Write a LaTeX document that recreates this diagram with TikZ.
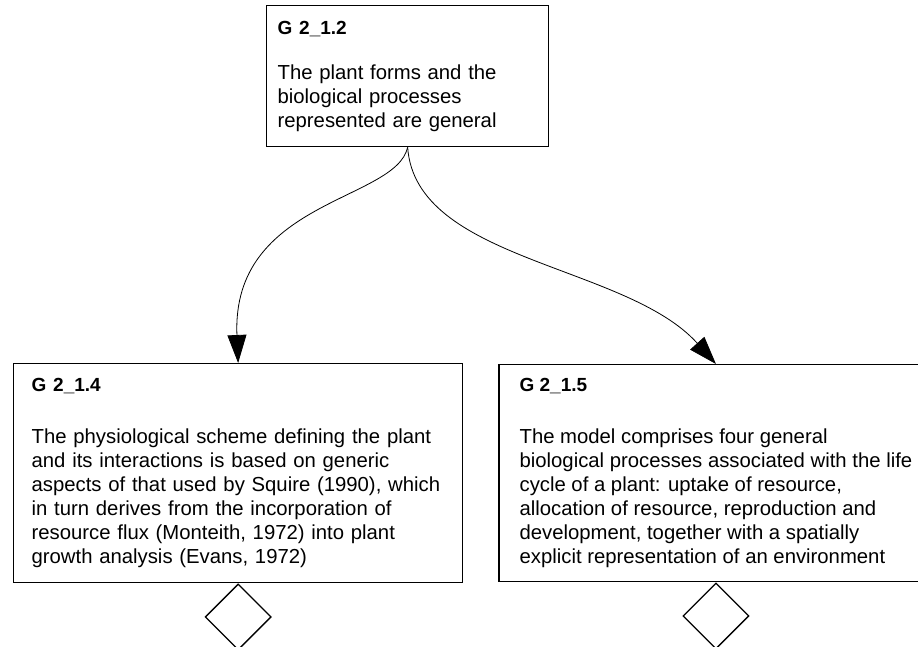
\documentclass[tikz,border=0pt]{standalone}
\usepackage{fontspec}
\setmainfont{Liberation Sans}
\usetikzlibrary{shapes.geometric, arrows.meta, positioning}
\tikzset{
    goalbox/.style={rectangle, draw=black, line width=1.3pt, align=left, anchor=north west, inner ysep=0pt, minimum height=219pt, font=\fontsize{20.3}{24}\selectfont},
    gate/.style   ={diamond, aspect=1, draw=black, line width=1.3pt, minimum width=66pt, minimum height=66pt, inner sep=0pt},
    support/.style={-{Triangle[length=28pt, width=19pt]}, line width=0.8pt},
}
\newcommand{\goaltitle}[1]{{\fontsize{19}{24}\selectfont\bfseries #1}}

\begin{document}
\begin{tikzpicture}[x=1pt, y=-1pt]
    \useasboundingbox (0,0) rectangle (918,647);
    \clip (0,0) rectangle (918,647);
    \node[goalbox, text width=260pt, inner xsep=11pt, minimum height=141pt] (g212) at (266,5)
        {\goaltitle{G 2\_1.2}\\[21pt]The plant forms and the\\biological processes\\represented are general};
    \node[goalbox, text width=413pt, inner xsep=18pt] (g214) at (13,363)
        {\goaltitle{G 2\_1.4}\\[28pt]The physiological scheme defining the plant\\and its interactions is based on generic\\aspects of that used by Squire (1990), which\\in turn derives from the incorporation of\\resource flux (Monteith, 1972) into plant\\growth analysis (Evans, 1972)};
    \node[goalbox, anchor=center, minimum width=434pt, inner xsep=0pt, minimum height=217pt, right=35pt of g214] (g215)
        {\goaltitle{G 2\_1.5}\\[28pt]The model comprises four general\\biological processes associated with the life\\cycle of a plant: uptake of resource,\\allocation of resource, reproduction and\\development, together with a spatially\\explicit representation of an environment};
    \node[gate, below=0pt of g214] (d214) {};
    \node[gate, below=0pt of g215] (d215) {};
    \draw[support] (g212.south) .. controls +(-12,54) and +(-7,-163) .. (g214.north);
    \draw[support] (g212.south) .. controls +(8,114) and +(-90,-100) .. (g215.north);
\end{tikzpicture}
\end{document}
